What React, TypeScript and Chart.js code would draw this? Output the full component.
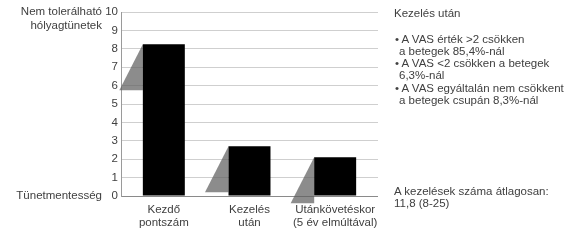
import React, { useEffect, useRef } from "react";
import { Chart, registerables } from "chart.js";

Chart.register(...registerables);

const categories: string[][] = [
  ["Kezdő", "pontszám"],
  ["Kezelés", "után"],
  ["Utánkövetéskor", "(5 év elmúltával)"],
];
const scores: number[] = [8.25, 2.7, 2.1];
const shadowBottoms: number[] = [5.75, 0.2, -0.4];
const yTicks: number[] = [0, 1, 2, 3, 4, 5, 6, 7, 8, 9, 10];
const topAxisLabel: string[] = ["Nem tolerálható", "hólyagtünetek"];
const bottomAxisLabel = "Tünetmentesség";
const notesTitle = "Kezelés után";
const notesBullets: string[][] = [
  ["A VAS érték >2 csökken", "a betegek 85,4%-nál"],
  ["A VAS <2 csökken a betegek", "6,3%-nál"],
  ["A VAS egyáltalán nem csökkent", "a betegek csupán 8,3%-nál"],
];
const notesFooter: string[] = ["A kezelések száma átlagosan:", "11,8 (8-25)"];

const FONT = "Arial, 'Liberation Sans', sans-serif";
const TEXT = "#404040";
const FS = 11.5;

const extrasPlugin = {
  id: "extras",
  beforeDatasetsDraw(chart: any) {
    const { ctx } = chart;
    const meta = chart.getDatasetMeta(0);
    const y = chart.scales.y;
    ctx.save();
    ctx.fillStyle = "rgba(95,95,95,0.72)";
    meta.data.forEach((bar: any, i: number) => {
      const left = bar.x - bar.width / 2;
      const top = y.getPixelForValue(scores[i]);
      const bot = y.getPixelForValue(shadowBottoms[i]);
      const off = bar.width * 0.56;
      ctx.beginPath();
      ctx.moveTo(left, top);
      ctx.lineTo(left - off, bot);
      ctx.lineTo(left, bot);
      ctx.closePath();
      ctx.fill();
    });
    ctx.restore();
  },
  afterDraw(chart: any) {
    const { ctx } = chart;
    const y = chart.scales.y;
    ctx.save();
    ctx.font = `${FS}px ${FONT}`;
    ctx.fillStyle = TEXT;
    ctx.textAlign = "right";
    ctx.textBaseline = "middle";
    const x = 102;
    const yTop = y.getPixelForValue(10);
    ctx.fillText(topAxisLabel[0], x, yTop);
    ctx.fillText(topAxisLabel[1], x, yTop + 14);
    ctx.fillText(bottomAxisLabel, x, y.getPixelForValue(0));
    ctx.restore();
  },
};

export default function App() {
  const ref = useRef<HTMLCanvasElement | null>(null);
  useEffect(() => {
    if (!ref.current) return;
    const chart = new Chart(ref.current, {
      type: "bar",
      data: {
        labels: categories,
        datasets: [
          {
            data: scores,
            backgroundColor: "#000000",
            borderWidth: 0,
            barPercentage: 0.49,
            categoryPercentage: 1,
          },
        ],
      },
      options: {
        responsive: false,
        animation: false,
        devicePixelRatio: 1,
        layout: { padding: { top: 12, right: 202, bottom: 0, left: 0 } },
        plugins: { legend: { display: false }, tooltip: { enabled: false } },
        scales: {
          x: {
            grid: { display: false, drawTicks: false },
            border: { display: false },
            ticks: {
              color: TEXT,
              font: { family: FONT, size: FS, lineHeight: 1.1 },
              padding: 8,
              maxRotation: 0,
              autoSkip: false,
            },
            afterFit: (s: any) => {
              s.height = 46;
            },
          },
          y: {
            min: 0,
            max: 10,
            afterBuildTicks: (s: any) => {
              s.ticks = yTicks.map((v) => ({ value: v }));
            },
            grid: {
              drawTicks: false,
              color: (c: any) => (c.tick && c.tick.value === 0 ? "#8a8a8a" : "#cfcfcf"),
            },
            border: { display: true, color: "#9a9a9a" },
            ticks: {
              color: TEXT,
              font: { family: FONT, size: FS },
              padding: 3,
            },
            afterFit: (s: any) => {
              s.width = 121;
            },
          },
        },
      },
      plugins: [extrasPlugin],
    });
    return () => chart.destroy();
  }, []);

  const lineStyle = (top: number, left: number): React.CSSProperties => ({
    position: "absolute",
    top,
    left,
    whiteSpace: "nowrap",
    lineHeight: "12px",
  });

  const lines: { text: string; top: number; left: number }[] = [];
  lines.push({ text: notesTitle, top: 7, left: 394 });
  const bulletTops = [33, 57, 82];
  notesBullets.forEach((b, i) => {
    lines.push({ text: "• " + b[0], top: bulletTops[i], left: 395 });
    lines.push({ text: b[1], top: bulletTops[i] + 12, left: 399 });
  });
  lines.push({ text: notesFooter[0], top: 185, left: 394 });
  lines.push({ text: notesFooter[1], top: 197, left: 394 });

  return (
    <div style={{ position: "fixed", left: 0, top: 0, width: 580, height: 242, background: "#fff" }}>
      <canvas ref={ref} width={580} height={242} style={{ position: "absolute", left: 0, top: 0 }} />
      <div style={{ position: "absolute", left: 0, top: 0, fontFamily: FONT, fontSize: FS, color: TEXT }}>
        {lines.map((l, i) => (
          <div key={i} style={lineStyle(l.top, l.left)}>
            {l.text}
          </div>
        ))}
      </div>
    </div>
  );
}
